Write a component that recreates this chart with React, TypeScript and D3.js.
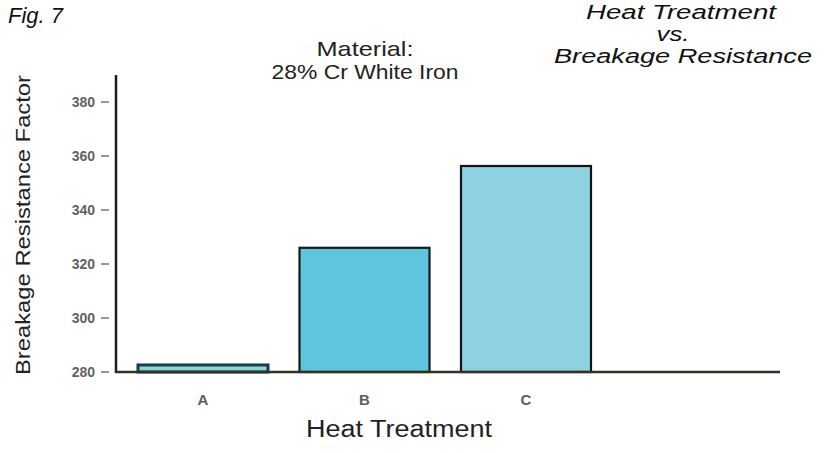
import React from "react";
import * as d3 from "d3";

const categories = ["A", "B", "C"];
const values = [282.6, 326, 356.3];
const yTicks = [280, 300, 320, 340, 360, 380];
const barFills = ["#86d6de", "#5fc4de", "#8ed1e1"];
const barStrokes = ["#163f44", "#1a1a1a", "#141414"];
const titleLines = ["Heat Treatment", "vs.", "Breakage Resistance"];
const materialLines = ["Material:", "28% Cr White Iron"];

const W = 829;
const H = 453;

export default function App() {
  const y = d3.scaleLinear().domain([280, 380]).range([372, 102]);
  const x = d3
    .scaleBand<string>()
    .domain(categories)
    .range([117, 612])
    .paddingInner(0.195)
    .paddingOuter(0.13);
  const axisX = 116;
  const baseY = y(280);
  const font = "'Liberation Sans', Arial, sans-serif";
  const titleX = [681, 673, 683];
  const titleY = [18.5, 40.5, 62.5];
  const titleLen = [190, 33, 258];
  const matY = [55.5, 79];
  const matLen = [97, 187];

  return (
    <svg
      width={W}
      height={H}
      style={{ position: "absolute", left: 0, top: 0, background: "#fff" }}
      fontFamily={font}
    >
      <rect x={0} y={0} width={W} height={H} fill="#fff" />
      {/* Fig label */}
      <text x={8} y={23} fontSize={22} fontStyle="italic" fill="#111" textLength={55} lengthAdjust="spacingAndGlyphs">
        Fig. 7
      </text>
      {/* Right title */}
      <text fontStyle="italic" fill="#111" fontSize={19.5} textAnchor="middle">
        {titleLines.map((l, i) => (
          <tspan key={l} x={titleX[i]} y={titleY[i]} textLength={titleLen[i]} lengthAdjust="spacingAndGlyphs">
            {l}
          </tspan>
        ))}
      </text>
      {/* Material */}
      <text fill="#222" fontSize={21} textAnchor="middle">
        {materialLines.map((l, i) => (
          <tspan key={l} x={365} y={matY[i]} textLength={matLen[i]} lengthAdjust="spacingAndGlyphs">
            {l}
          </tspan>
        ))}
      </text>
      {/* Y axis label */}
      <text
        transform={`translate(30,${225}) rotate(-90)`}
        textAnchor="middle"
        fontSize={21}
        fill="#222"
        textLength={300}
        lengthAdjust="spacingAndGlyphs"
      >
        Breakage Resistance Factor
      </text>
      {/* Y ticks */}
      {yTicks.map((t) => (
        <g key={t}>
          <line x1={101} x2={109} y1={y(t)} y2={y(t)} stroke="#555" strokeWidth={1.2} />
          <text x={95} y={y(t) + 5} textAnchor="end" fontSize={14} fill="#3a3a3a" fontWeight="bold" opacity={0.8}>
            {t}
          </text>
        </g>
      ))}
      {/* Bars */}
      {categories.map((c, i) => (
        <rect
          key={c}
          x={x(c)}
          y={y(values[i])}
          width={x.bandwidth()}
          height={baseY - y(values[i])}
          fill={barFills[i]}
          stroke={barStrokes[i]}
          strokeWidth={i === 0 ? 3 : 2.2}
        />
      ))}
      {/* Axis lines */}
      <line x1={axisX} x2={axisX} y1={y(390)} y2={baseY + 1} stroke="#1c1c1c" strokeWidth={2.5} />
      <line x1={axisX - 1} x2={780} y1={baseY} y2={baseY} stroke="#2f3320" strokeWidth={2.5} />
      {/* Category labels */}
      {categories.map((c) => (
        <text
          key={c}
          x={(x(c) as number) + x.bandwidth() / 2}
          y={405}
          textAnchor="middle"
          fontSize={15}
          fill="#333"
          fontWeight="bold"
          opacity={0.8}
        >
          {c}
        </text>
      ))}
      {/* X axis title */}
      <text x={399} y={437} textAnchor="middle" fontSize={23} fill="#222" textLength={186} lengthAdjust="spacingAndGlyphs">
        Heat Treatment
      </text>
    </svg>
  );
}
